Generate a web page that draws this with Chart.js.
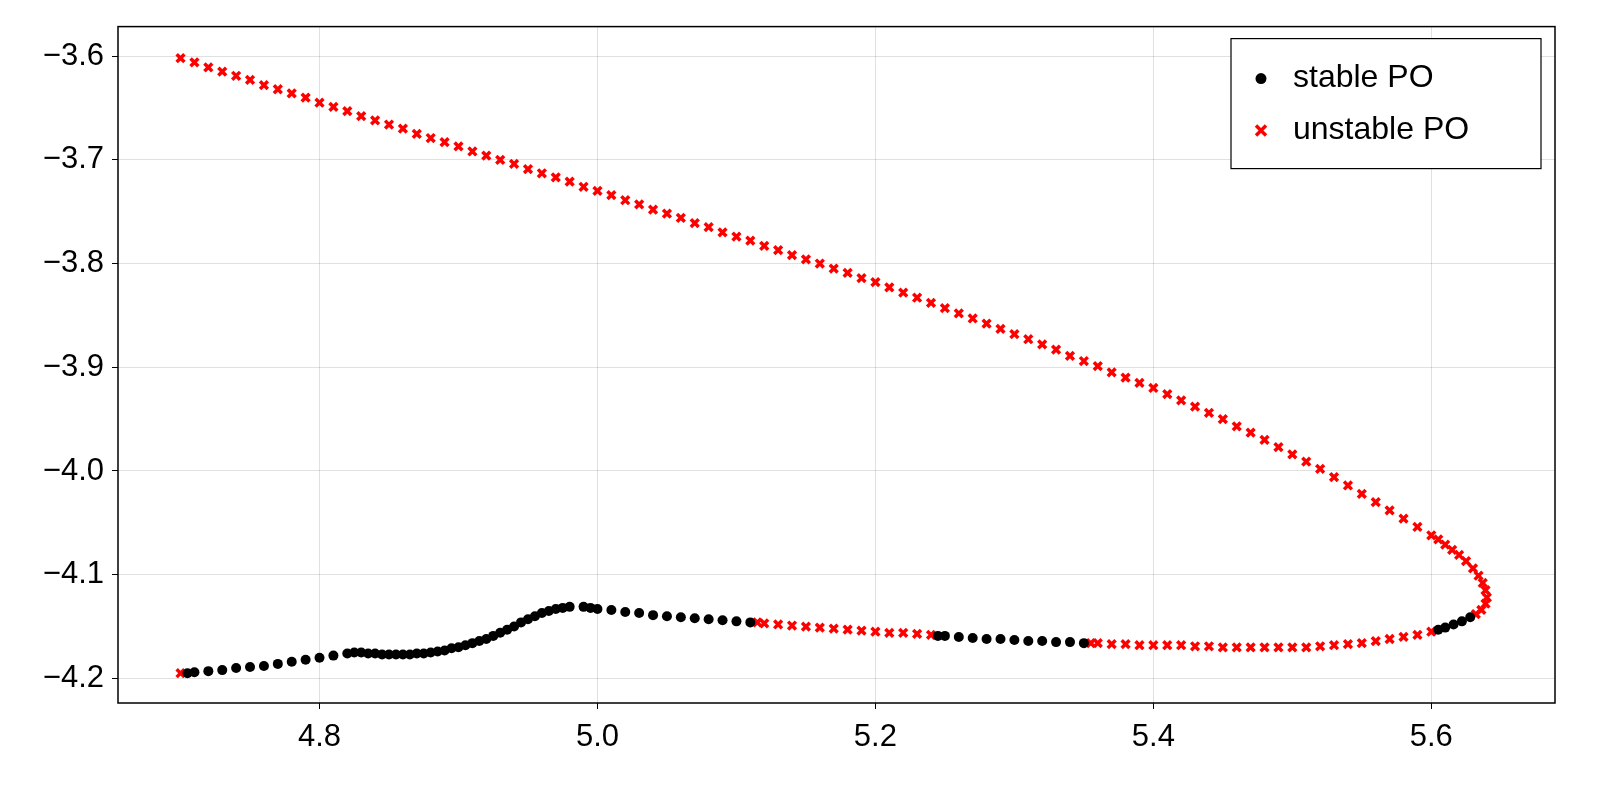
<!DOCTYPE html>
<html><head><meta charset="utf-8">
<script src="https://cdn.jsdelivr.net/npm/chart.js@4"></script>
<style>html,body{margin:0;padding:0;background:#fff;overflow:hidden}canvas{display:block}</style>
</head><body>
<canvas id="c" width="1600" height="800"></canvas>
<script>
const stableX=[5.628,5.622,5.616,5.61,5.605,
5.35,5.34,5.33,5.32,5.31,5.30,5.29,5.28,5.27,5.26,5.25,5.245,
5.11,5.10,5.09,5.08,5.07,5.06,5.05,5.04,5.03,5.02,5.01,5.00,4.995,4.99,4.98,4.975,4.97,4.965,4.96,4.955,4.95,4.945,4.94,4.935,4.93,4.925,4.92,4.915,4.91,4.905,4.90,4.895,4.89,4.885,4.88,4.875,4.87,4.865,4.86,4.855,4.85,4.845,4.84,4.835,4.83,4.825,4.82,4.81,4.80,4.79,4.78,4.77,4.76,4.75,4.74,4.73,4.72,4.71,4.705];
const stableY=[-4.141,-4.145,-4.148,-4.151,-4.153,
-4.166,-4.165,-4.165,-4.164,-4.164,-4.163,-4.162,-4.162,-4.161,-4.160,-4.159,-4.159,
-4.146,-4.145,-4.144,-4.143,-4.142,-4.141,-4.140,-4.139,-4.137,-4.136,-4.134,-4.133,-4.132,-4.131,-4.131,-4.132,-4.133,-4.135,-4.137,-4.140,-4.143,-4.146,-4.150,-4.153,-4.156,-4.159,-4.162,-4.164,-4.166,-4.168,-4.170,-4.171,-4.173,-4.174,-4.175,-4.176,-4.176,-4.177,-4.177,-4.177,-4.177,-4.177,-4.176,-4.176,-4.175,-4.175,-4.176,-4.178,-4.180,-4.182,-4.184,-4.186,-4.188,-4.189,-4.190,-4.192,-4.193,-4.194,-4.195];
const unstableX=[4.70,4.71,4.72,4.73,4.74,4.75,4.76,4.77,4.78,4.79,4.80,4.81,4.82,4.83,4.84,4.85,4.86,4.87,4.88,4.89,4.90,4.91,4.92,4.93,4.94,4.95,4.96,4.97,4.98,4.99,5.00,
5.01,5.02,5.03,5.04,5.05,5.06,5.07,5.08,5.09,5.10,5.11,5.12,5.13,5.14,5.15,5.16,5.17,5.18,5.19,5.20,
5.21,5.22,5.23,5.24,5.25,5.26,5.27,5.28,5.29,5.30,5.31,5.32,5.33,5.34,5.35,5.36,5.37,5.38,5.39,5.40,
5.41,5.42,5.43,5.44,5.45,5.46,5.47,5.48,5.49,5.50,5.51,5.52,5.53,5.54,5.55,5.56,5.57,5.58,5.59,5.60,5.605,5.61,5.615,5.62,5.625,5.63,5.634,5.637,5.639,5.640,5.639,5.636,5.632,
5.60,5.59,5.58,5.57,5.56,5.55,5.54,5.53,5.52,5.51,5.50,5.49,5.48,5.47,5.46,5.45,5.44,5.43,5.42,5.41,5.40,5.39,5.38,5.37,5.36,5.355,
5.24,5.23,5.22,5.21,5.20,5.19,5.18,5.17,5.16,5.15,5.14,5.13,5.12,5.115,
4.70];
const unstableY=[-3.602,-3.606,-3.611,-3.615,-3.619,-3.623,-3.628,-3.632,-3.636,-3.640,-3.645,-3.649,-3.653,-3.658,-3.662,-3.666,-3.670,-3.675,-3.679,-3.683,-3.687,-3.692,-3.696,-3.700,-3.704,-3.709,-3.713,-3.717,-3.721,-3.726,-3.730,
-3.734,-3.739,-3.743,-3.748,-3.752,-3.756,-3.761,-3.765,-3.770,-3.774,-3.778,-3.783,-3.787,-3.792,-3.796,-3.800,-3.805,-3.809,-3.814,-3.818,
-3.823,-3.828,-3.833,-3.838,-3.843,-3.848,-3.853,-3.858,-3.863,-3.868,-3.873,-3.878,-3.883,-3.889,-3.894,-3.899,-3.905,-3.910,-3.915,-3.920,
-3.926,-3.932,-3.938,-3.944,-3.950,-3.957,-3.963,-3.970,-3.977,-3.984,-3.991,-3.998,-4.006,-4.014,-4.022,-4.030,-4.038,-4.046,-4.054,-4.062,-4.066,-4.071,-4.076,-4.081,-4.087,-4.094,-4.101,-4.108,-4.115,-4.122,-4.128,-4.134,-4.138,
-4.155,-4.158,-4.160,-4.162,-4.164,-4.166,-4.167,-4.168,-4.169,-4.170,-4.170,-4.170,-4.170,-4.170,-4.170,-4.170,-4.169,-4.169,-4.168,-4.168,-4.168,-4.168,-4.167,-4.167,-4.166,-4.166,
-4.158,-4.157,-4.156,-4.156,-4.155,-4.154,-4.153,-4.152,-4.151,-4.150,-4.149,-4.148,-4.147,-4.146,
-4.195];
const xTicks=[4.8,5.0,5.2,5.4,5.6];
const yTicks=[-3.6,-3.7,-3.8,-3.9,-4.0,-4.1,-4.2];

const pts=(xs,ys)=>xs.map((x,i)=>({x:x,y:ys[i]}));
const FONT='"Liberation Sans", Arial, sans-serif';

// frame around the plot + boxed legend in the top right corner
const frame={
  id:'frame',
  afterDraw(c){
    const ctx=c.ctx,a=c.chartArea;
    ctx.save();
    ctx.strokeStyle='#000';ctx.lineWidth=1.5;
    ctx.strokeRect(a.left,a.top,a.right-a.left,a.bottom-a.top);
    const bx=a.right-324,by=a.top+12,bw=310,bh=130;
    ctx.fillStyle='#fff';ctx.fillRect(bx,by,bw,bh);
    ctx.lineWidth=1.2;ctx.strokeRect(bx,by,bw,bh);
    ctx.font='32px '+FONT;ctx.textBaseline='middle';
    c.data.datasets.forEach((d,i)=>{
      const y=by+40+i*52;
      ctx.fillStyle=d.backgroundColor;ctx.strokeStyle=d.borderColor;ctx.lineWidth=d.borderWidth||1;
      if(i===0){ctx.beginPath();ctx.arc(bx+30,y,5.5,0,Math.PI*2);ctx.fill();}
      else{ctx.beginPath();ctx.moveTo(bx+25,y-5);ctx.lineTo(bx+35,y+5);ctx.moveTo(bx+35,y-5);ctx.lineTo(bx+25,y+5);ctx.stroke();}
      ctx.fillStyle='#000';ctx.fillText(d.label,bx+62,y);
    });
    ctx.restore();
  }
};

new Chart(document.getElementById('c'),{
  type:'scatter',
  data:{datasets:[
    {label:'stable PO',data:pts(stableX,stableY),pointStyle:'circle',pointRadius:5,backgroundColor:'#000',borderColor:'#000',borderWidth:0},
    {label:'unstable PO',data:pts(unstableX,unstableY),pointStyle:'crossRot',pointRadius:5.5,borderColor:'#ff0000',backgroundColor:'#ff0000',borderWidth:3.5}
  ]},
  options:{
    responsive:false,animation:false,devicePixelRatio:1,
    layout:{padding:{top:5,right:45,left:0,bottom:0}},
    plugins:{tooltip:{enabled:false},legend:{display:false}},
    scales:{
      x:{type:'linear',min:4.655,max:5.689,
        afterBuildTicks:s=>{s.ticks=xTicks.map(v=>({value:v}));},
        afterFit:s=>{s.height=97;},
        grid:{color:'rgba(0,0,0,0.12)',drawTicks:true,tickLength:6,tickColor:'#000'},
        border:{display:false},
        ticks:{color:'#000',font:{family:FONT,size:31},padding:10,callback:v=>v.toFixed(1)}},
      y:{type:'linear',min:-4.2237,max:-3.5716,
        afterBuildTicks:s=>{s.ticks=yTicks.map(v=>({value:v}));},
        afterFit:s=>{s.width=118;},
        grid:{color:'rgba(0,0,0,0.12)',drawTicks:true,tickLength:6,tickColor:'#000'},
        border:{display:false},
        ticks:{color:'#000',font:{family:FONT,size:31},padding:8,callback:v=>v.toFixed(1).replace('-','\u2212')}}
    }
  },
  plugins:[frame]
});
</script>
</body></html>
